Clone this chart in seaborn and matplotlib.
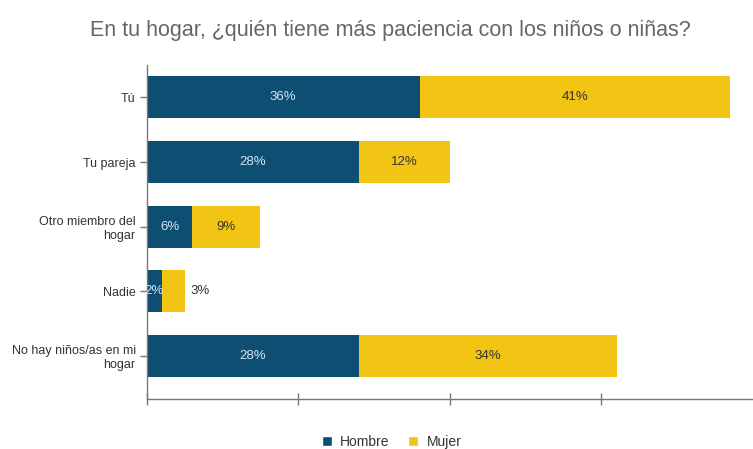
import numpy as np
import pandas as pd
import seaborn as sns
import matplotlib.pyplot as plt
from matplotlib.patches import Patch

categories = ["Tú", "Tu pareja", "Otro miembro del\nhogar", "Nadie",
              "No hay niños/as en mi\nhogar"]
hombre = [36, 28, 6, 2, 28]
mujer = [41, 12, 9, 3, 34]
series_names = ["Hombre", "Mujer"]
title = "En tu hogar, ¿quién tiene más paciencia con los niños o niñas?"

BLUE = "#0d4e72"
YELLOW = "#f2c413"

sns.set_style("white")
plt.rcParams["font.family"] = ["Liberation Sans", "DejaVu Sans"]

df = pd.DataFrame({"cat": categories, "Hombre": hombre, "Mujer": mujer})
df["Total"] = df["Hombre"] + df["Mujer"]

fig = plt.figure(figsize=(7.53, 4.49), dpi=100)
ax = fig.add_axes([0.195, 0.111, 0.805, 0.744])

# stacked bars: full total in yellow, male share drawn over it in blue
sns.barplot(data=df, y="cat", x="Total", color=YELLOW, orient="h",
            width=0.65, ax=ax, saturation=1, edgecolor="none")
sns.barplot(data=df, y="cat", x="Hombre", color=BLUE, orient="h",
            width=0.65, ax=ax, saturation=1, edgecolor="none")

ax.set_xlim(0, 80)
ax.set_ylim(4.67, -0.5)
ax.set_xlabel("")
ax.set_ylabel("")
ax.set_xticks([0, 20, 40, 60])
ax.set_xticklabels([])
ax.tick_params(axis="x", bottom=True, direction="inout", length=9, width=1,
               color="#777777")
ax.tick_params(axis="y", left=True, direction="out", length=5, width=1,
               color="#777777", labelsize=9, labelcolor="#333333", pad=3)

for sp in ["top", "right"]:
    ax.spines[sp].set_visible(False)
for sp in ["left", "bottom"]:
    ax.spines[sp].set_color("#777777")
    ax.spines[sp].set_linewidth(1)

for i, (h, m) in enumerate(zip(hombre, mujer)):
    ax.text(h / 2, i, f"{h}%", ha="center", va="center",
            color="#d5e6f2", fontsize=9.5)
    if m >= 5:
        ax.text(h + m / 2, i, f"{m}%", ha="center", va="center",
                color="#333333", fontsize=9.5)
    else:
        ax.text(h + m + 0.7, i, f"{m}%", ha="left", va="center",
                color="#333333", fontsize=9.5)

fig.text(0.519, 0.932, title, ha="center", va="center", fontsize=15.5,
         color="#666666")

handles = [Patch(facecolor=BLUE, label=series_names[0]),
           Patch(facecolor=YELLOW, label=series_names[1])]
fig.legend(handles=handles, loc="center", bbox_to_anchor=(0.52, 0.016),
           ncol=2, frameon=False, fontsize=10, handlelength=0.75,
           handleheight=0.75, handletextpad=0.6, columnspacing=1.3,
           labelcolor="#333333")

fig.savefig("out.png", dpi=100)
